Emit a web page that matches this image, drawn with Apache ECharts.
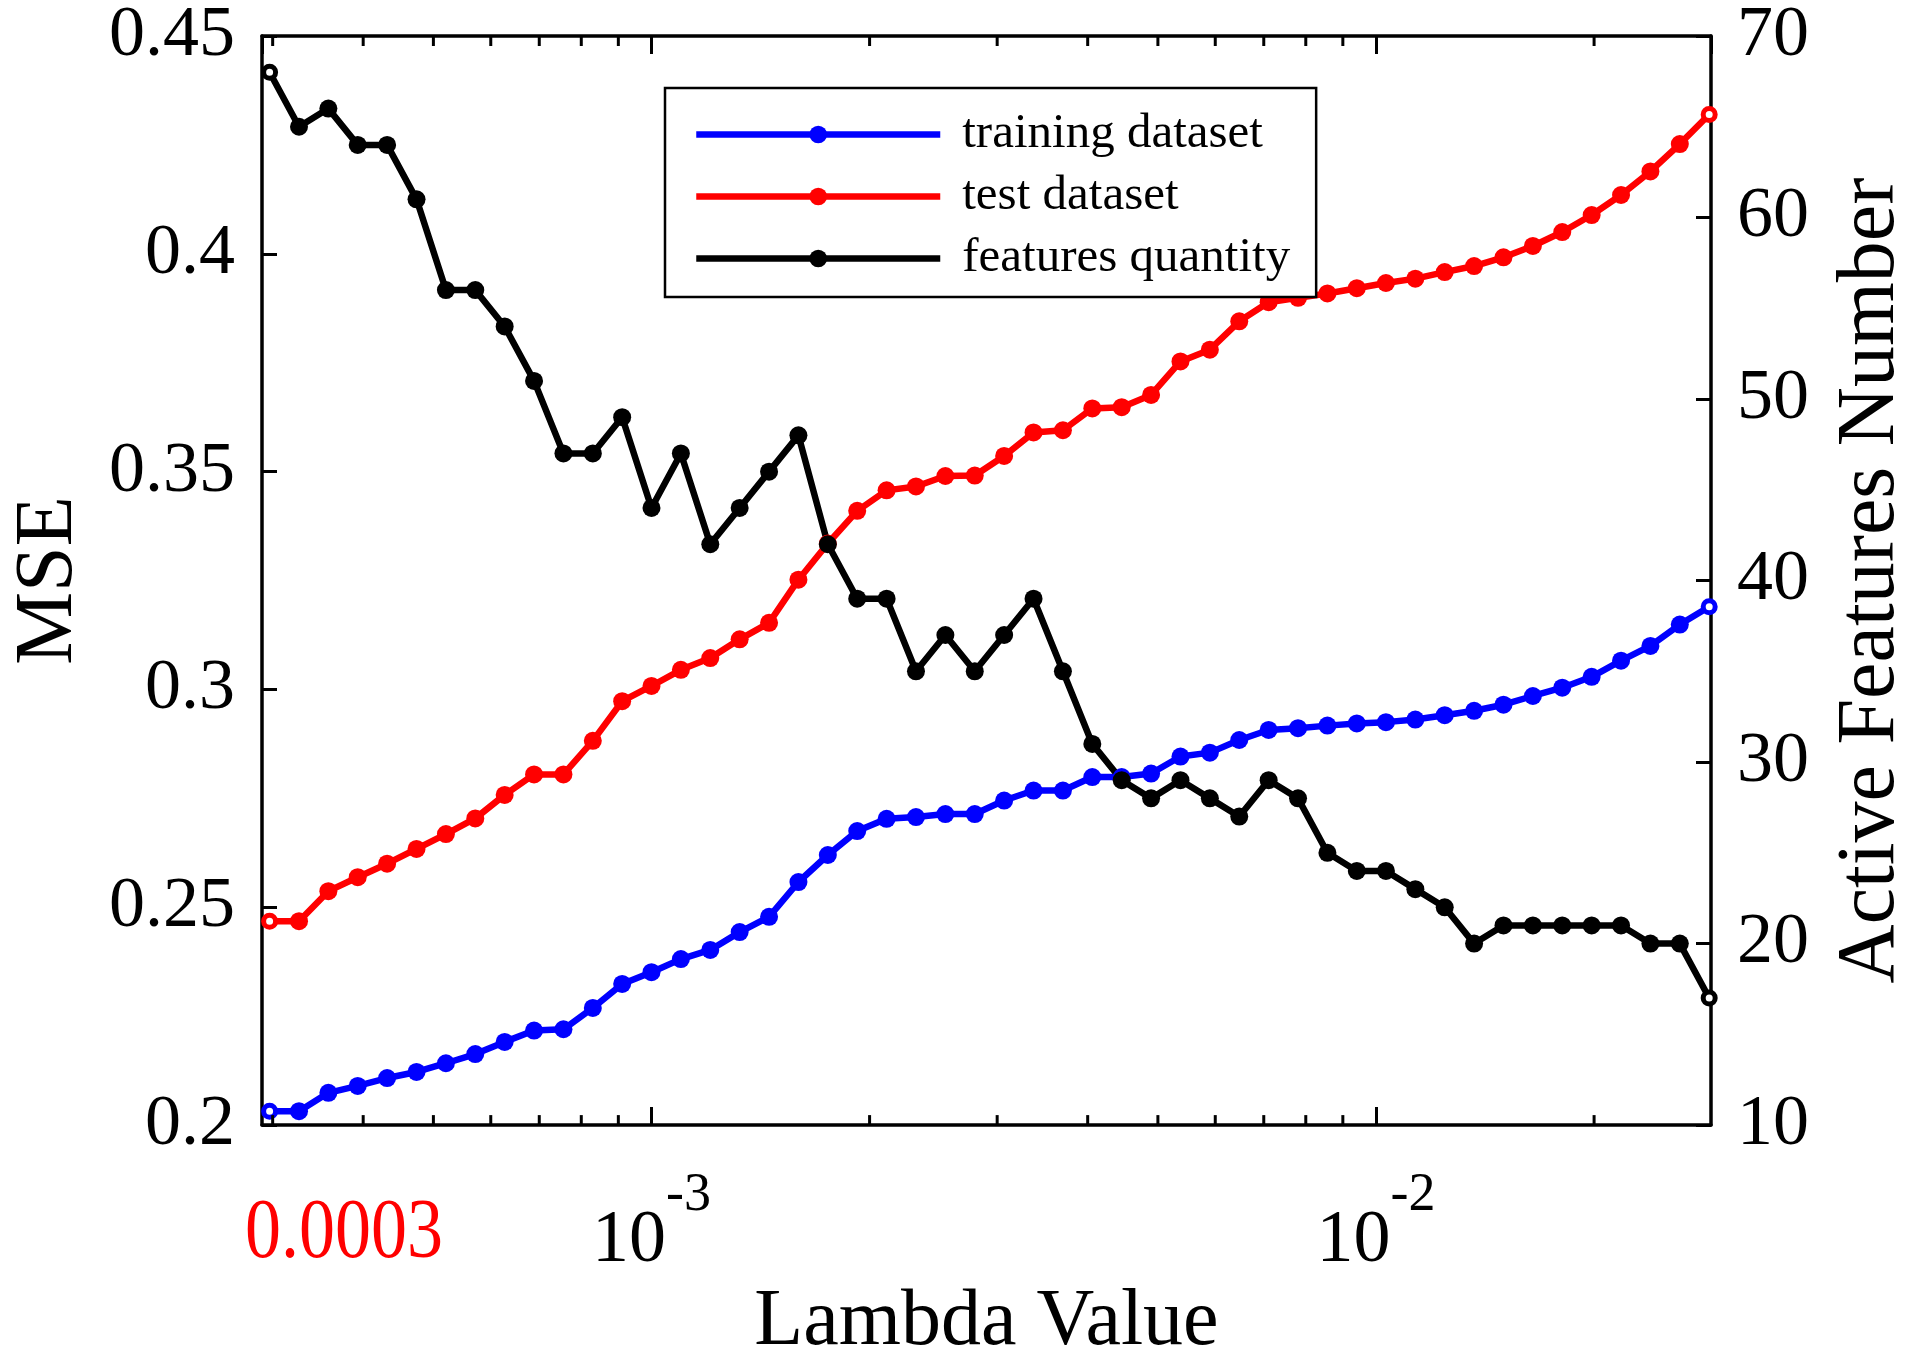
<!DOCTYPE html>
<html lang="en">
  <head>
    <meta charset="UTF-8" />
    <title>Lambda vs MSE</title>
    <script src="https://cdn.jsdelivr.net/npm/echarts@6/dist/echarts.min.js"></script>
    <style>
      html, body { margin: 0; padding: 0; background: #fff; }
    </style>
  </head>
  <body>
    <div id="chart" style="width: 1920px; height: 1368px"></div>
  </body>
  <script>
    const lambdas = [
      2.971e-4, 3.262e-4, 3.581e-4, 3.931e-4, 4.316e-4, 4.739e-4, 5.203e-4, 5.712e-4, 6.271e-4, 6.885e-4,
      7.559e-4, 8.299e-4, 9.110e-4, 1.000e-3, 1.0979e-3, 1.2054e-3, 1.3234e-3, 1.4530e-3, 1.5952e-3, 1.7514e-3,
      1.9229e-3, 2.1111e-3, 2.3178e-3, 2.5447e-3, 2.7938e-3, 3.0673e-3, 3.3676e-3, 3.6973e-3, 4.0593e-3, 4.4567e-3,
      4.8930e-3, 5.3720e-3, 5.8979e-3, 6.4754e-3, 7.1093e-3, 7.8053e-3, 8.5694e-3, 9.4083e-3, 1.0322e-2, 1.1332e-2,
      1.2441e-2, 1.3659e-2, 1.4996e-2, 1.6465e-2, 1.8076e-2, 1.9846e-2, 2.1789e-2, 2.3921e-2, 2.6263e-2, 2.8834e-2,
    ];
    // MSE on the training set
    const trainMse = [
      0.2032, 0.2032, 0.2074, 0.2090, 0.2108, 0.2122, 0.2142, 0.2163, 0.2191, 0.2217,
      0.2220, 0.2269, 0.2324, 0.2351, 0.2381, 0.2402, 0.2443, 0.2478, 0.2558, 0.2620,
      0.2675, 0.2703, 0.2707, 0.2714, 0.2714, 0.2745, 0.2768, 0.2768, 0.2799, 0.2799,
      0.2807, 0.2846, 0.2855, 0.2884, 0.2907, 0.2911, 0.2917, 0.2922, 0.2925, 0.2931,
      0.2941, 0.2951, 0.2965, 0.2985, 0.3004, 0.3029, 0.3066, 0.3100, 0.3149, 0.3190,
    ];
    // MSE on the test set
    const testMse = [
      0.2468, 0.2468, 0.2537, 0.2569, 0.2600, 0.2634, 0.2668, 0.2704, 0.2758, 0.2805,
      0.2805, 0.2882, 0.2973, 0.3008, 0.3045, 0.3072, 0.3115, 0.3153, 0.3252, 0.3335,
      0.3410, 0.3457, 0.3466, 0.3490, 0.3491, 0.3536, 0.3590, 0.3595, 0.3645, 0.3648,
      0.3676, 0.3753, 0.3780, 0.3845, 0.3889, 0.3899, 0.3909, 0.3921, 0.3933, 0.3943,
      0.3958, 0.3972, 0.3992, 0.4018, 0.4050, 0.4089, 0.4135, 0.4189, 0.4252, 0.4320,
    ];
    // number of active features
    const featureCount = [
      68, 65, 66, 64, 64, 61, 56, 56, 54, 51,
      47, 47, 49, 44, 47, 42, 44, 46, 48, 42,
      39, 39, 35, 37, 35, 37, 39, 35, 31, 29,
      28, 29, 28, 27, 29, 28, 25, 24, 24, 23,
      22, 20, 21, 21, 21, 21, 21, 20, 20, 17,
    ];
    const seriesNames = ["training dataset", "test dataset", "features quantity"];
    // minor ticks of the log axis
    const minorTicks = [
      3e-4, 4e-4, 5e-4, 6e-4, 7e-4, 8e-4, 9e-4,
      2e-3, 3e-3, 4e-3, 5e-3, 6e-3, 7e-3, 8e-3, 9e-3, 2e-2,
    ];
    const chosenLambda = lambdas[1];
    const chosenLabel = "0.0003";

    const font = '"Liberation Serif", "Times New Roman", serif';
    const xMin = 2.9e-4, xMax = 2.9e-2;
    const mseMin = 0.2, mseMax = 0.45;
    const lineW = 6.5;

    function buildPoints(ys, color) {
      return lambdas.map((x, i) => {
        if (i === 0 || i === lambdas.length - 1) {
          return {
            value: [x, ys[i]],
            symbolSize: 12,
            itemStyle: { color: "#fff", borderColor: color, borderWidth: 5 },
          };
        }
        return [x, ys[i]];
      });
    }

    function lineSeries(name, ys, color, yIndex) {
      return {
        name: name,
        type: "line",
        xAxisIndex: 0,
        yAxisIndex: yIndex,
        data: buildPoints(ys, color),
        symbol: "circle",
        symbolSize: 18,
        showAllSymbol: true,
        lineStyle: { color: color, width: lineW },
        itemStyle: { color: color },
        z: 3,
      };
    }

    const xAxisBase = {
      type: "log",
      min: xMin,
      max: xMax,
      axisLine: { lineStyle: { color: "#000", width: 3.5 } },
      axisTick: { inside: true, length: 18, lineStyle: { color: "#000", width: 3 } },
      splitLine: { show: false },
      minorTick: { show: false },
    };
    const yTick = { inside: true, length: 15, lineStyle: { color: "#000", width: 3 } };

    let chart = echarts.init(document.getElementById("chart"));
    let option = {
      backgroundColor: "#fff",
      animation: false,
      grid: { left: 258, right: 203, top: 33, bottom: 217 },
      legend: {
        data: seriesNames,
        orient: "vertical",
        left: 665,
        top: 88,
        itemWidth: 244,
        itemHeight: 22,
        itemGap: 13,
        padding: [22, 26, 14, 28],
        borderColor: "#000",
        borderWidth: 2.5,
        backgroundColor: "#fff",
        lineStyle: { width: lineW },
        textStyle: { fontFamily: font, fontSize: 49, color: "#000", padding: [0, 0, 0, 17] },
      },
      xAxis: [
        Object.assign({}, xAxisBase, {
          position: "bottom",
          name: "Lambda Value",
          nameLocation: "middle",
          nameGap: 150,
          nameTextStyle: { fontFamily: font, fontSize: 80, color: "#000" },
          axisLabel: {
            showMinLabel: false,
            showMaxLabel: false,
            margin: 44,
            formatter: (v) => "{b|10}{e|" + Math.round(Math.log10(v)) + "}",
            rich: {
              b: { fontFamily: font, fontSize: 74, color: "#000" },
              e: { fontFamily: font, fontSize: 54, color: "#000", padding: [0, 0, 90, 0] },
            },
          },
        }),
        Object.assign({}, xAxisBase, {
          position: "top",
          axisLabel: { show: false },
        }),
      ],
      yAxis: [
        {
          type: "value",
          position: "left",
          min: mseMin,
          max: mseMax,
          interval: 0.05,
          name: "MSE",
          nameLocation: "middle",
          nameGap: 172,
          nameTextStyle: { fontFamily: font, fontSize: 82, color: "#000" },
          axisLine: { show: true, lineStyle: { color: "#000", width: 3.5 } },
          axisTick: yTick,
          axisLabel: { fontFamily: font, fontSize: 72, color: "#000", margin: 27 },
          splitLine: { show: false },
        },
        {
          type: "value",
          position: "right",
          min: 10,
          max: 70,
          interval: 10,
          name: "Active Features Number",
          nameLocation: "middle",
          nameGap: 119,
          nameTextStyle: { fontFamily: font, fontSize: 82, color: "#000" },
          axisLine: { show: true, lineStyle: { color: "#000", width: 3.5 } },
          axisTick: yTick,
          axisLabel: { fontFamily: font, fontSize: 72, color: "#000", margin: 26 },
          splitLine: { show: false },
        },
      ],
      series: [
        lineSeries(seriesNames[0], trainMse, "#0000ff", 0),
        lineSeries(seriesNames[1], testMse, "#ff0000", 0),
        Object.assign(lineSeries(seriesNames[2], featureCount, "#000000", 1), {
          markLine: {
            silent: true,
            symbol: "none",
            label: { show: false },
            lineStyle: { color: "#ff0000", width: 4, type: [46, 28] },
            data: [{ xAxis: chosenLambda }],
          },
        }),
        {
          // minor ticks on bottom and top edges
          type: "custom",
          xAxisIndex: 0,
          yAxisIndex: 0,
          silent: true,
          z: 6,
          data: minorTicks.map((v) => [v, mseMin]),
          renderItem: (params, api) => {
            const v = api.value(0);
            const b = api.coord([v, mseMin]);
            const t = api.coord([v, mseMax]);
            const st = { stroke: "#000", lineWidth: 3 };
            return {
              type: "group",
              children: [
                { type: "line", shape: { x1: b[0], y1: b[1], x2: b[0], y2: b[1] - 10 }, style: st },
                { type: "line", shape: { x1: t[0], y1: t[1], x2: t[0], y2: t[1] + 10 }, style: st },
              ],
            };
          },
        },
      ],
    };
    chart.setOption(option);

    // red label for the chosen lambda under the axis
    let px = chart.convertToPixel({ xAxisIndex: 0 }, chosenLambda);
    let py = chart.convertToPixel({ yAxisIndex: 0 }, mseMin);
    chart.setOption({
      graphic: [
        {
          type: "text",
          x: px + 45,
          y: py + 110,
          scaleY: 1.18,
          style: {
            text: chosenLabel,
            fill: "#ff0000",
            font: "72px " + font,
            textAlign: "center",
            textVerticalAlign: "middle",
          },
        },
      ],
    });
  </script>
</html>
